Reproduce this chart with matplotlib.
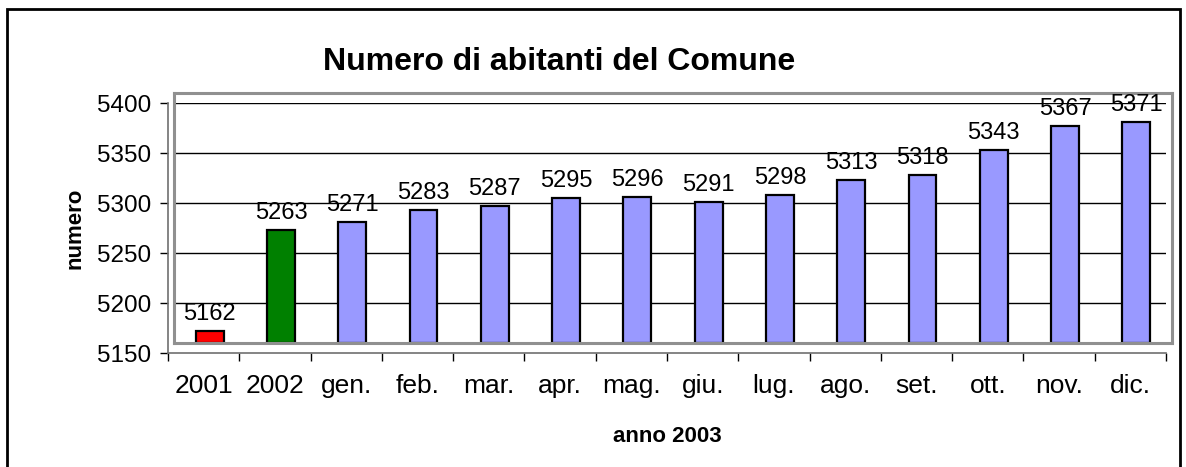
import matplotlib
matplotlib.use('Agg')
import matplotlib.pyplot as plt
import numpy as np

plt.rcParams['font.family'] = ['Liberation Sans', 'DejaVu Sans']

# dati
categorie = ['2001', '2002', 'gen.', 'feb.', 'mar.', 'apr.', 'mag.', 'giu.',
             'lug.', 'ago.', 'set.', 'ott.', 'nov.', 'dic.']
abitanti = [5162, 5263, 5271, 5283, 5287, 5295, 5296, 5291, 5298, 5313,
            5318, 5343, 5367, 5371]
colori = ['#FF0000', '#008000'] + ['#9999FF'] * 12
y_min, y_max = 5150, 5400
y_ticks = [5150, 5200, 5250, 5300, 5350, 5400]

W, H = 1186, 467
fig = plt.figure(figsize=(W / 100, H / 100), dpi=100)

def rect(x0, y0, x1, y1):
    # pixel -> coordinate figura
    return [x0 / W, 1 - y1 / H, (x1 - x0) / W, (y1 - y0) / H]

x = np.arange(len(categorie))

# assi principali (linee, tick, etichette)
ax = fig.add_axes(rect(168, 103, 1166, 353))
ax.set_xlim(-0.5, len(categorie) - 0.5)
ax.set_ylim(y_min, y_max)
ax.patch.set_visible(False)
for s in ['top', 'right']:
    ax.spines[s].set_visible(False)
for s in ['left', 'bottom']:
    ax.spines[s].set_color('#707070')
    ax.spines[s].set_linewidth(1.2)
ax.set_yticks(y_ticks)
ax.tick_params(axis='y', direction='out', length=6, width=1, labelsize=17.5, pad=6)
ax.set_xticks(np.arange(len(categorie) + 1) - 0.5)
ax.set_xticklabels([])
ax.set_xticks(x, minor=True)
ax.set_xticklabels(categorie, minor=True, fontsize=19)
ax.tick_params(axis='x', which='major', direction='out', length=6, width=1)
ax.tick_params(axis='x', which='minor', length=0, pad=15)
ax.set_xlabel('anno 2003', fontsize=16, fontweight='bold', labelpad=20)
ax.set_ylabel('numero', fontsize=16, fontweight='bold', labelpad=8)

# griglia
axg = fig.add_axes(rect(174, 103, 1166, 353))
axg.set_ylim(y_min, y_max)
axg.set_yticks(y_ticks[1:])
axg.set_xticks([])
axg.tick_params(axis='y', length=0, labelleft=False)
axg.grid(axis='y', color='black', linewidth=1)
axg.patch.set_visible(False)
for s in axg.spines.values():
    s.set_visible(False)

# parete di fondo con le colonne (spostata come nel grafico 3D di Excel)
ax2 = fig.add_axes(rect(174, 93, 1172, 343))
ax2.set_xlim(-0.5, len(categorie) - 0.5)
ax2.set_ylim(y_min, y_max)
ax2.patch.set_visible(False)
for s in ax2.spines.values():
    s.set_color('#909090')
    s.set_linewidth(2.2)
ax2.set_xticks([])
ax2.set_yticks([])
barre = ax2.bar(x, np.array(abitanti) - y_min, bottom=y_min, width=0.39,
                color=colori, edgecolor='black', linewidth=1.6)
ax2.bar_label(barre, labels=[str(v) for v in abitanti], padding=4, fontsize=17,
              clip_on=False)

# titolo
fig.text(559 / W, 1 - 62 / H, 'Numero di abitanti del Comune', fontsize=23,
         fontweight='bold', ha='center', va='center')

# cornice esterna
fig.patches.append(plt.Rectangle((7 / W, -0.1), 1173 / W, 1 - 9 / H + 0.1,
                                 transform=fig.transFigure, fill=False,
                                 edgecolor='black', linewidth=2))

fig.savefig('out.png', dpi=100)
